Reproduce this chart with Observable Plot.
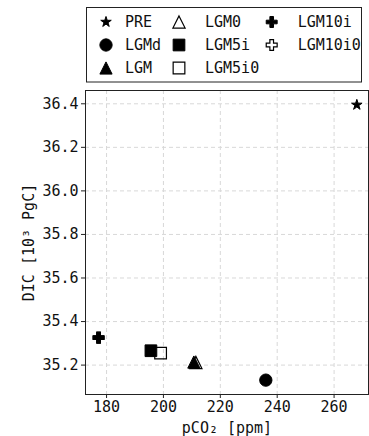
<!DOCTYPE html>
<html>
<head>
<meta charset="utf-8">
<script src="https://cdn.jsdelivr.net/npm/d3@7"></script>
<script src="https://cdn.jsdelivr.net/npm/@observablehq/plot@0.6"></script>
<style>
  html, body { margin: 0; padding: 0; background: #fff; }
  #chart { width: 369px; height: 436px; position: relative; font-family: "DejaVu Sans Mono", monospace; }
  svg { display: block; }
</style>
</head>
<body>
<div id="chart"></div>
<script>
// ---- data ----
const names = ["PRE", "LGMd", "LGM", "LGM0", "LGM5i", "LGM5i0", "LGM10i", "LGM10i0"];
const pco2  = [268.0, 236.0, 210.7, 211.4, 195.6, 199.0, 177.2, 177.2];
const dic   = [36.395, 35.131, 35.214, 35.212, 35.266, 35.255, 35.326, 35.326];
const markers = ["star", "circle", "triangle", "triangleOpen", "square", "squareOpen", "cross", "crossOpen"];
const xTicks = [180, 200, 220, 240, 260];
const yTicks = [35.2, 35.4, 35.6, 35.8, 36.0, 36.2, 36.4];

// ---- marker styles ----
const mplTriangle = {
  draw(ctx, size) {
    const h = Math.sqrt(size / Math.PI);
    ctx.moveTo(0, -h); ctx.lineTo(h, h); ctx.lineTo(-h, h); ctx.closePath();
  }
};
const styles = {
  star:         {symbol: d3.symbolStar,     r: 3.3,  fill: "black", stroke: "black", sw: 1},
  circle:       {symbol: d3.symbolCircle,   r: 6.15, fill: "black", stroke: "black", sw: 1},
  triangle:     {symbol: mplTriangle,       r: 6.1,  fill: "black", stroke: "black", sw: 1},
  triangleOpen: {symbol: mplTriangle,       r: 6.1,  fill: "none",  stroke: "black", sw: 1.2},
  square:       {symbol: d3.symbolSquare,   r: 6.6,  fill: "black", stroke: "black", sw: 1},
  squareOpen:   {symbol: d3.symbolSquare,   r: 6.6,  fill: "none",  stroke: "black", sw: 1.2},
  cross:        {symbol: d3.symbolCross,    r: 4.6,  fill: "black", stroke: "black", sw: 1},
  crossOpen:    {symbol: d3.symbolCross,    r: 4.6,  fill: "none",  stroke: "black", sw: 1.2}
};

const data = names.map((n, i) => ({name: n, x: pco2[i], y: dic[i], m: markers[i]}));
const FONT = "DejaVu Sans Mono";

// ---- legend ----
const legendH = 85;
const leg = d3.create("svg").attr("width", 369).attr("height", legendH);
leg.append("rect").attr("x", 86.5).attr("y", 7.5).attr("width", 275).attr("height", 74.5)
  .attr("fill", "white").attr("stroke", "#222").attr("stroke-width", 1);
const colMarkX = [106, 179, 271.7];
const colTextX = [125, 205, 297.7];
const rowY = [22, 45, 68];
data.forEach((d, i) => {
  const col = Math.floor(i / 3), row = i % 3;
  const s = styles[d.m];
  leg.append("path")
    .attr("d", d3.symbol(s.symbol, Math.PI * s.r * s.r)())
    .attr("transform", `translate(${colMarkX[col]},${rowY[row]})`)
    .attr("fill", s.fill).attr("stroke", s.stroke).attr("stroke-width", s.sw);
  leg.append("text").attr("x", colTextX[col]).attr("y", rowY[row])
    .attr("dy", "0.35em").attr("font-family", FONT).attr("font-size", 15)
    .attr("fill", "#111").text(d.name);
});
document.getElementById("chart").append(leg.node());

// ---- plot ----
const dotMarks = markers.map(m => {
  const s = styles[m];
  return Plot.dot(data.filter(d => d.m === m), {
    x: "x", y: "y", symbol: s.symbol, r: s.r,
    fill: s.fill, stroke: s.stroke, strokeWidth: s.sw
  });
});

const plot = Plot.plot({
  width: 369,
  height: 351,
  marginTop: 5,
  marginBottom: 42,
  marginLeft: 85,
  marginRight: 1,
  style: {fontFamily: FONT, fontSize: "15px", color: "#111", background: "white"},
  x: {domain: [172.6, 272.1], ticks: xTicks},
  y: {domain: [35.065, 36.461], ticks: yTicks},
  marks: [
    Plot.gridX(xTicks, {stroke: "#d8d8d8", strokeOpacity: 1, strokeDasharray: "4,3"}),
    Plot.gridY(yTicks, {stroke: "#d8d8d8", strokeOpacity: 1, strokeDasharray: "4,3"}),
    Plot.axisX(xTicks, {tickSize: 4, tickPadding: 3, fontSize: 15, stroke: "#222",
      label: "pCO₂ [ppm]", labelAnchor: "center", labelArrow: "none", labelOffset: 38}),
    Plot.axisY(yTicks, {tickSize: 4, tickPadding: 3, fontSize: 15, stroke: "#222",
      tickFormat: d3.format(".1f"),
      label: "DIC [10³ PgC]", labelAnchor: "center", labelArrow: "none", labelOffset: 62}),
    Plot.frame({stroke: "#222", strokeWidth: 1}),
    ...dotMarks
  ]
});
document.getElementById("chart").append(plot);
</script>
</body>
</html>
